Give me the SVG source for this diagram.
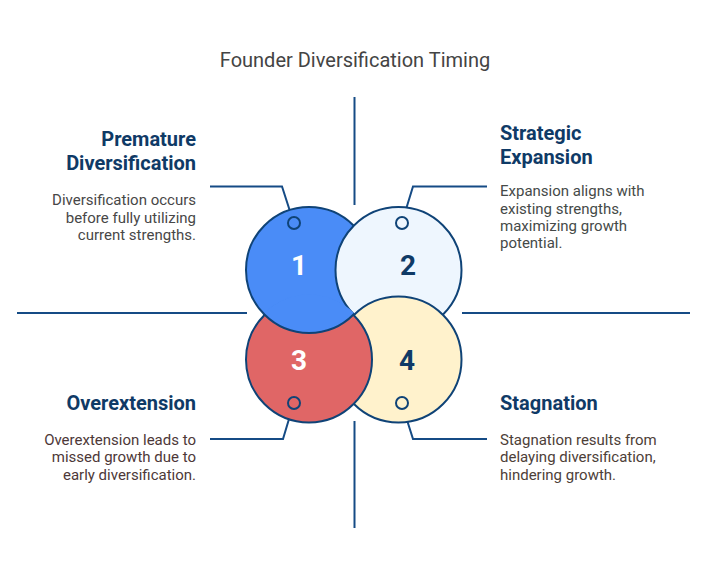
<svg xmlns="http://www.w3.org/2000/svg" width="721" height="577" viewBox="0 0 721 577">
<style>
  .title{font-family:Roboto,"Liberation Sans",sans-serif;font-size:20px;fill:#444444}
  .head{font-family:Roboto,"Liberation Sans",sans-serif;font-size:20px;font-weight:bold;fill:#0f3a66}
  .desc{font-family:Roboto,"Liberation Sans",sans-serif;font-size:15px}
  .num{font-family:Roboto,"Liberation Sans",sans-serif;font-size:28px;font-weight:bold;text-anchor:middle}
  .ring{stroke:#0f4377;stroke-width:2}
  .conn{fill:none;stroke:#154b85;stroke-width:2}
</style>
<defs>
  <clipPath id="clip3"><circle cx="309" cy="359" r="64.5"/></clipPath>
</defs>
<rect width="721" height="577" fill="#ffffff"/>
<text class="title" x="355" y="67" text-anchor="middle">Founder Diversification Timing</text>

<g id="connectors">
  <path class="conn" d="M354.5,97 V205"/>
  <path class="conn" d="M354.5,421 V528"/>
  <path class="conn" d="M17,313 H247"/>
  <path class="conn" d="M462,313 H690"/>
  <path class="conn" d="M210,186.5 H282 L292,217.5"/>
  <path class="conn" d="M487,186.5 H413 L403.5,217.5"/>
  <path class="conn" d="M210,439 H283 L292,409"/>
  <path class="conn" d="M487,439 H413 L403.5,409"/>
</g>

<g id="circles">
  <circle id="c1" class="ring" cx="309" cy="270" r="63" fill="#4a8cf7"/>
  <circle id="c2" class="ring" cx="398.5" cy="270" r="63" fill="#eef6fe"/>
  <circle id="c4" class="ring" cx="398.5" cy="359.5" r="63" fill="#fff2cc"/>
  <circle id="c3" class="ring" cx="309" cy="359.5" r="63" fill="#e06666"/>
  <circle class="ring" cx="309" cy="270" r="63" fill="#4a8cf7" clip-path="url(#clip3)"/>
</g>

<g id="node1">
  <circle class="ring" cx="294" cy="223" r="6" fill="#4a8cf7"/>
  <text class="num" x="299" y="275" fill="#ffffff">1</text>
  <text class="head" x="196" y="146" text-anchor="end">Premature</text>
  <text class="head" x="196" y="170" text-anchor="end">Diversification</text>
  <text class="desc" x="196" text-anchor="end" fill="#474747"><tspan x="196" y="205">Diversification occurs</tspan><tspan x="196" y="222.5">before fully utilizing</tspan><tspan x="196" y="240">current strengths.</tspan></text>
</g>

<g id="node2">
  <circle class="ring" cx="402" cy="223" r="6" fill="#eef6fe"/>
  <text class="num" x="408" y="275" fill="#0f3a66">2</text>
  <text class="head" x="500" y="140">Strategic</text>
  <text class="head" x="500" y="164">Expansion</text>
  <text class="desc" fill="#454a48"><tspan x="500" y="196">Expansion aligns with</tspan><tspan x="500" y="213.5">existing strengths,</tspan><tspan x="500" y="231">maximizing growth</tspan><tspan x="500" y="248">potential.</tspan></text>
</g>

<g id="node3">
  <circle class="ring" cx="294" cy="403" r="6" fill="#e06666"/>
  <text class="num" x="299" y="370" fill="#ffffff">3</text>
  <text class="head" x="196" y="410" text-anchor="end">Overextension</text>
  <text class="desc" text-anchor="end" fill="#4d3838"><tspan x="196" y="444.5">Overextension leads to</tspan><tspan x="196" y="462">missed growth due to</tspan><tspan x="196" y="479.5">early diversification.</tspan></text>
</g>

<g id="node4">
  <circle class="ring" cx="402" cy="403" r="6" fill="#fff2cc"/>
  <text class="num" x="407" y="370" fill="#0f3a66">4</text>
  <text class="head" x="500" y="410">Stagnation</text>
  <text class="desc" fill="#4d4038"><tspan x="500" y="444.5">Stagnation results from</tspan><tspan x="500" y="462">delaying diversification,</tspan><tspan x="500" y="479.5">hindering growth.</tspan></text>
</g>
</svg>
